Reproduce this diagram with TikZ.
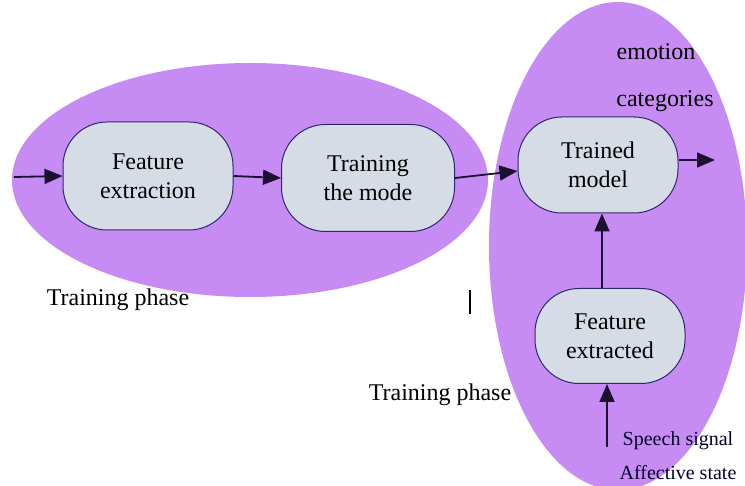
\documentclass[tikz,border=0pt]{standalone}
\usepackage{fontspec}
\setmainfont{Liberation Serif}
\usetikzlibrary{arrows.meta}
\definecolor{phasefill}{RGB}{199,140,244}
\definecolor{boxfill}{RGB}{214,220,229}
\definecolor{boxline}{RGB}{44,40,110}
\definecolor{flowline}{RGB}{28,16,48}
\tikzset{
  stage/.style={draw=boxline, line width=1pt, fill=boxfill, rounded corners=44pt,
    align=center, inner sep=0pt, font=\rmfamily\fontsize{24}{29}\selectfont},
  flow/.style={draw=flowline, line width=1.8pt, -{Triangle[length=18pt,width=15pt]}},
  caption/.style={inner sep=0pt, font=\rmfamily\fontsize{24}{29}\selectfont},
  smallcap/.style={inner sep=0pt, font=\rmfamily\fontsize{20}{24}\selectfont, text=black!85!blue}
}
\begin{document}
\begin{tikzpicture}[x=1pt,y=-1pt]
\useasboundingbox (0,0) rectangle (745,486);
\clip (0,0) rectangle (745,486);
\fill[white] (0,0) rectangle (745,486);

% two phase regions
\fill[phasefill] (250,180) ellipse [x radius=238, y radius=117];
\fill[phasefill] (618,246) ellipse [x radius=129, y radius=244];

% processing stages
\node[stage, minimum width=170pt, minimum height=108pt] (fe) at (148,176) {Feature\\extraction};
\node[stage, minimum width=173pt, minimum height=107pt] (tm) at (368,178) {Training\\the mode};
\node[stage, minimum width=160pt, minimum height=96pt] (tmodel) at (598,165) {Trained\\model};
\node[stage, minimum width=150pt, minimum height=95pt] (fext) at (610,336) {Feature\\extracted};

% labels
\node[caption] (tp1) at (118,300) {Training phase};
\node[caption] (tp2) at (440,395) {Training phase};
\node[caption] (emo) at (656,52) {emotion};
\node[caption] (cat) at (665,101) {categories};
\node[smallcap] (sig) at (678,441) {Speech signal};
\node[smallcap] (aff) at (678,473) {Affective state};
\draw[black, line width=1.2pt] (470,290) -- (470,314);

% free ends of the flow
\coordinate (in) at (14,177);
\coordinate (out) at (715,160);
\coordinate (src) at (607,447);

% connectors
\draw[flow] (in) -- (fe.west);
\draw[flow] (fe.east) -- (tm.west);
\draw[flow] (tm.east) -- ([yshift=-6pt]tmodel.west);
\draw[flow] ([yshift=5pt]tmodel.east) -- (out);
\draw[flow] ([xshift=-8pt]fext.north) -- ([xshift=4pt]tmodel.south);
\draw[flow] (src) -- ([xshift=-3pt]fext.south);
\end{tikzpicture}
\end{document}
